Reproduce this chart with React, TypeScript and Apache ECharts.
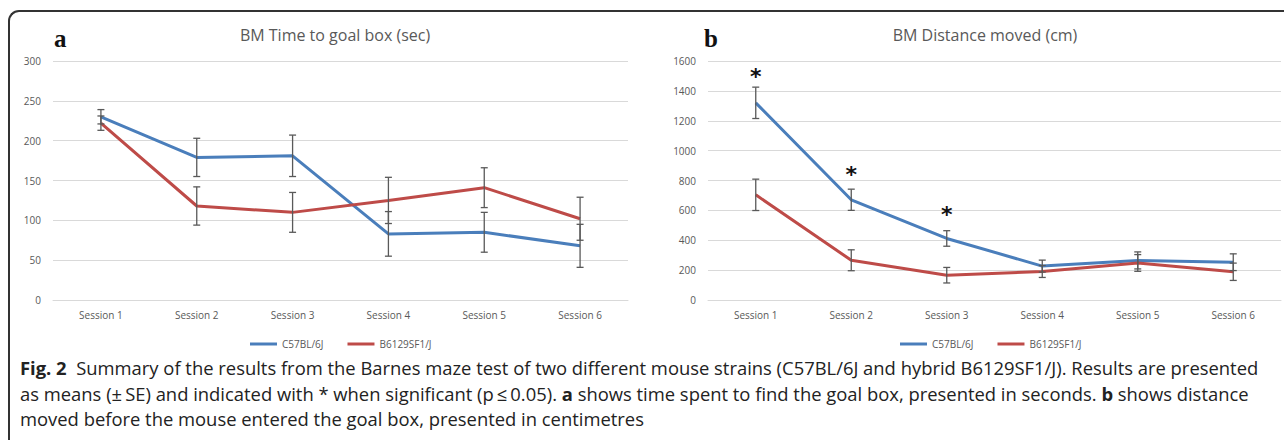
import React, { useEffect, useRef } from "react";
import * as echarts from "echarts";

const sessions = ["Session 1", "Session 2", "Session 3", "Session 4", "Session 5", "Session 6"];
const strainNames = ["C57BL/6J", "B6129SF1/J"];

// Panel a: time to goal box (sec), mean and SE
const timeC57 = [230, 179, 181, 83, 85, 68];
const timeC57Err = [9, 24, 26, 28, 25, 27];
const timeB6 = [222, 118, 110, 125, 141, 102];
const timeB6Err = [9, 24, 25, 29, 25, 27];

// Panel b: distance moved (cm), mean and SE
const distC57 = [1320, 671, 412, 227, 265, 253];
const distC57Err = [105, 71, 52, 40, 57, 56];
const distB6 = [704, 266, 166, 191, 248, 189];
const distB6Err = [105, 70, 52, 40, 56, 58];

// significance markers (panel b)
const sigSessions = ["Session 1", "Session 2", "Session 3"];
const sigMarkY = [1531, 871, 609];

const timeAxisMax = 300;
const timeAxisStep = 50;
const distAxisMax = 1600;
const distAxisStep = 200;

const BLUE = "#4A7EBB";
const RED = "#BE4B48";
const GREY = "#595959";
const FONT = "Open Sans";

function errData(mean: number[], err: number[]) {
  return mean.map((m, i) => [i, m - err[i], m + err[i]]);
}

function errRender(params: any, api: any) {
  const x = api.value(0);
  const lo = api.coord([x, api.value(1)]);
  const hi = api.coord([x, api.value(2)]);
  const w = 3.5;
  const style = { stroke: GREY, lineWidth: 1.3 };
  return {
    type: "group",
    children: [
      { type: "line", shape: { x1: lo[0], y1: lo[1], x2: hi[0], y2: hi[1] }, style },
      { type: "line", shape: { x1: lo[0] - w, y1: lo[1], x2: lo[0] + w, y2: lo[1] }, style },
      { type: "line", shape: { x1: hi[0] - w, y1: hi[1], x2: hi[0] + w, y2: hi[1] }, style },
    ],
  };
}

function starRender(params: any, api: any) {
  const p = api.coord([api.value(0), api.value(1)]);
  return {
    type: "text",
    x: p[0],
    y: p[1] + 5,
    style: {
      text: "*",
      fontSize: 22,
      fontWeight: "bold",
      fontFamily: "DejaVu Sans",
      fill: "#111",
      textAlign: "center",
      textVerticalAlign: "middle",
    },
  };
}

function xAxisCfg(gridIndex: number) {
  return {
    type: "category",
    gridIndex,
    data: sessions,
    boundaryGap: true,
    axisLine: { show: true, lineStyle: { color: "#d9d9d9", width: 1 } },
    axisTick: { show: false },
    axisLabel: { color: GREY, fontSize: 10, fontFamily: FONT, margin: 10 },
  };
}

function yAxisCfg(gridIndex: number, max: number, interval: number) {
  return {
    type: "value",
    gridIndex,
    min: 0,
    max,
    interval,
    axisLine: { show: false },
    axisTick: { show: false },
    axisLabel: { color: GREY, fontSize: 10, fontFamily: FONT, margin: 12, formatter: (v: number) => String(v) },
    splitLine: { lineStyle: { color: "#d9d9d9", width: 1 } },
  };
}

function lineSeries(name: string, data: number[], color: string, idx: number) {
  return {
    type: "line",
    name,
    data,
    xAxisIndex: idx,
    yAxisIndex: idx,
    symbol: "none",
    color,
    lineStyle: { color, width: 3 },
    z: 3,
  };
}

function errSeries(mean: number[], err: number[], idx: number) {
  return {
    type: "custom",
    xAxisIndex: idx,
    yAxisIndex: idx,
    data: errData(mean, err),
    encode: { x: 0, y: [1, 2] },
    renderItem: errRender,
    z: 4,
    silent: true,
  };
}

export default function App() {
  const ref = useRef<HTMLDivElement>(null);

  useEffect(() => {
    if (!ref.current) return;
    const chart = echarts.init(ref.current, undefined, { renderer: "svg" });
    const legendCommon = {
      data: strainNames,
      icon: "rect",
      itemWidth: 27,
      itemHeight: 3,
      itemGap: 24,
      textStyle: { color: GREY, fontSize: 10, fontFamily: FONT },
      selectedMode: false,
      top: 334,
    };
    chart.setOption({
      animation: false,
      backgroundColor: "transparent",
      title: [
        {
          text: "BM Time to goal box (sec)",
          left: 330,
          top: 22,
          textAlign: "center",
          textStyle: { color: GREY, fontSize: 16, fontWeight: "normal", fontFamily: FONT },
        },
        {
          text: "BM Distance moved (cm)",
          left: 980,
          top: 22,
          textAlign: "center",
          textStyle: { color: GREY, fontSize: 16, fontWeight: "normal", fontFamily: FONT },
        },
      ],
      legend: [
        { ...legendCommon, left: 245 },
        { ...legendCommon, left: 895 },
      ],
      grid: [
        { left: 53, top: 61, width: 575, height: 239 },
        { left: 708, top: 61, width: 573, height: 239 },
      ],
      xAxis: [xAxisCfg(0), xAxisCfg(1)],
      yAxis: [yAxisCfg(0, timeAxisMax, timeAxisStep), yAxisCfg(1, distAxisMax, distAxisStep)],
      graphic: [
        {
          type: "text",
          left: 54,
          top: 26,
          style: { text: "a", fontSize: 25, fontWeight: "bold", fontFamily: "Liberation Serif", fill: "#111" },
        },
        {
          type: "text",
          left: 704,
          top: 26,
          style: { text: "b", fontSize: 25, fontWeight: "bold", fontFamily: "Liberation Serif", fill: "#111" },
        },
      ],
      series: [
        lineSeries(strainNames[0], timeC57, BLUE, 0),
        lineSeries(strainNames[1], timeB6, RED, 0),
        errSeries(timeC57, timeC57Err, 0),
        errSeries(timeB6, timeB6Err, 0),
        lineSeries(strainNames[0], distC57, BLUE, 1),
        lineSeries(strainNames[1], distB6, RED, 1),
        errSeries(distC57, distC57Err, 1),
        errSeries(distB6, distB6Err, 1),
        {
          type: "custom",
          xAxisIndex: 1,
          yAxisIndex: 1,
          data: sigSessions.map((s, i) => [s, sigMarkY[i]]),
          encode: { x: 0, y: 1 },
          renderItem: starRender,
          z: 5,
          silent: true,
        },
      ],
    });
    return () => chart.dispose();
  }, []);

  const capStyle: React.CSSProperties = {
    position: "absolute",
    left: 20,
    whiteSpace: "nowrap",
    fontFamily: "'Open Sans', sans-serif",
    fontSize: 18.4,
    color: "#222",
    lineHeight: "25px",
  };

  return (
    <div style={{ position: "fixed", left: 0, top: 0, width: 1284, height: 440, background: "#fff", overflow: "hidden" }}>
      <div
        style={{
          position: "absolute",
          left: 8,
          top: 10,
          width: 1400,
          height: 500,
          borderTop: "2px solid #333",
          borderLeft: "2px solid #333",
          borderTopLeftRadius: 11,
          boxSizing: "border-box",
        }}
      />
      <div ref={ref} style={{ position: "absolute", left: 0, top: 0, width: 1284, height: 352 }} />
      <div style={{ ...capStyle, top: 355 }}>
        <b>Fig. 2</b>&nbsp; Summary of the results from the Barnes maze test of two different mouse strains (C57BL/6J and hybrid B6129SF1/J). Results are presented
      </div>
      <div style={{ ...capStyle, top: 381 }}>
        as means (±&thinsp;SE) and indicated with * when significant (p&thinsp;≤&thinsp;0.05). <b>a</b> shows time spent to find the goal box, presented in seconds. <b>b</b> shows distance
      </div>
      <div style={{ ...capStyle, top: 406 }}>
        moved before the mouse entered the goal box, presented in centimetres
      </div>
    </div>
  );
}
